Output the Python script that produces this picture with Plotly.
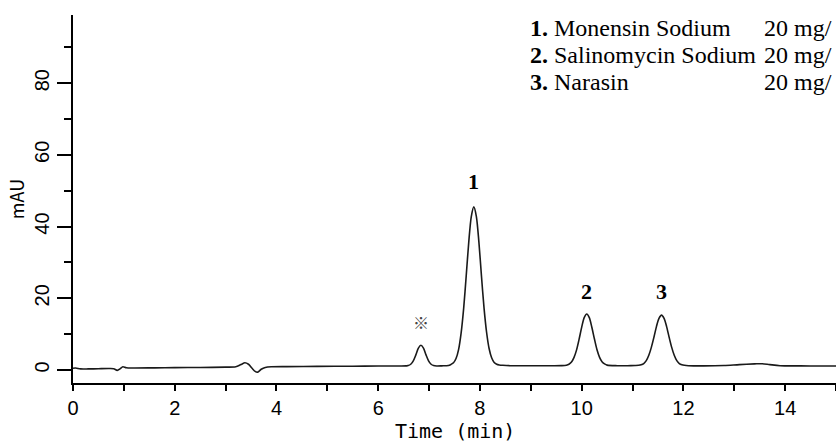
import plotly.graph_objects as go

# Chromatogram trace (time in min, absorbance in mAU)
time_min = [
    0.00, 0.05, 0.15, 0.30, 0.50, 0.70, 0.80, 0.87, 0.93, 0.98, 1.05, 1.20, 1.60, 2.00, 2.50, 3.00, 3.20,
    3.30, 3.38, 3.45, 3.52, 3.58, 3.63, 3.70, 3.78, 3.90, 4.20, 4.80, 5.50, 6.00, 6.40, 6.55,
    6.59, 6.64, 6.69, 6.74, 6.79, 6.84, 6.89, 6.94, 6.99, 7.04, 7.09, 7.15, 7.25,
    7.38, 7.43, 7.48, 7.53, 7.58, 7.63, 7.68, 7.73, 7.78, 7.83, 7.88, 7.93, 7.98, 8.03, 8.08, 8.13,
    8.18, 8.23, 8.28, 8.33, 8.38, 8.45, 8.60, 9.00, 9.40, 9.60,
    9.70, 9.75, 9.80, 9.85, 9.90, 9.95, 10.00, 10.05, 10.10, 10.15, 10.20, 10.25, 10.30, 10.35,
    10.40, 10.45, 10.50, 10.70, 10.90, 11.05,
    11.12, 11.17, 11.22, 11.27, 11.32, 11.37, 11.42, 11.47, 11.52, 11.57, 11.62, 11.67, 11.72,
    11.77, 11.82, 11.87, 11.92, 11.97, 12.02, 12.10, 12.40, 12.80, 13.10, 13.40, 13.55, 13.70,
    13.90, 14.30, 14.70, 15.00,
]
absorbance_mau = [
    0.50, 0.55, 0.30, 0.30, 0.35, 0.40, 0.35, -0.10, 0.40, 0.90, 0.60, 0.55, 0.60, 0.65, 0.70, 0.80, 0.90,
    1.50, 2.00, 1.60, 0.50, -0.40, -0.60, 0.20, 0.70, 0.90, 0.95, 1.00, 1.05, 1.10, 1.10, 1.15,
    1.22, 1.60, 2.55, 4.20, 6.10, 6.90, 6.10, 4.20, 2.55, 1.60, 1.22, 1.12, 1.15,
    1.25, 1.55, 2.00, 3.20, 5.70, 10.30, 17.20, 26.20, 35.60, 42.80, 45.50, 42.80, 35.60, 26.20, 17.40, 10.60,
    6.00, 3.40, 2.10, 1.60, 1.40, 1.30, 1.20, 1.20, 1.20, 1.22,
    1.33, 1.60, 2.20, 3.50, 5.60, 8.60, 11.90, 14.60, 15.60, 14.60, 11.90, 8.70, 5.70, 3.60,
    2.30, 1.70, 1.35, 1.20, 1.20, 1.25,
    1.30, 1.45, 1.80, 2.60, 4.10, 6.30, 9.10, 12.10, 14.40, 15.30, 14.40, 12.10, 9.10,
    6.30, 4.10, 2.60, 1.80, 1.45, 1.30, 1.20, 1.15, 1.25, 1.50, 1.70, 1.75, 1.50,
    1.20, 1.15, 1.10, 1.10,
]

# Peak labels
peak_labels = ["※", "1", "2", "3"]
peak_times = [6.84, 7.88, 10.10, 11.57]
peak_label_heights = [13.3, 52.5, 21.8, 21.8]

# Legend table (concentration column is shown cut at the right edge, as in the source)
legend_numbers = ["1.", "2.", "3."]
legend_names = ["Monensin Sodium", "Salinomycin Sodium", "Narasin"]
legend_conc = ["20 mg/", "20 mg/", "20 mg/"]

x_major_ticks = [0, 2, 4, 6, 8, 10, 12, 14]
y_major_ticks = [0, 20, 40, 60, 80]

fig = go.Figure()
fig.add_trace(go.Scatter(
    x=time_min, y=absorbance_mau, mode="lines",
    line=dict(color="#1a1a1a", width=1.6, shape="spline", smoothing=0.8),
    hoverinfo="skip", showlegend=False,
))

tick_font = dict(family="Liberation Sans, Arial, sans-serif", size=20, color="black")
serif = "Liberation Serif, Times New Roman, serif"

for lab, t, h in zip(peak_labels, peak_times, peak_label_heights):
    if lab == "※":
        fnt = dict(family="Noto Sans CJK JP, sans-serif", size=16, color="#444")
        txt = lab
    else:
        fnt = dict(family=serif, size=22, color="black")
        txt = "<b>" + lab + "</b>"
    fig.add_annotation(x=t, y=h, xref="x", yref="y", text=txt, showarrow=False,
                       font=fnt, xanchor="center", yanchor="middle")

row_y = [0.965, 0.891, 0.817]
for num, name, conc, yy in zip(legend_numbers, legend_names, legend_conc, row_y):
    fig.add_annotation(x=0.596, y=yy, xref="paper", yref="paper",
                       text="<b>" + num + "</b> " + name, showarrow=False,
                       xanchor="left", yanchor="middle",
                       font=dict(family=serif, size=24, color="black"))
    fig.add_annotation(x=0.903, y=yy, xref="paper", yref="paper",
                       text=conc, showarrow=False, xanchor="left", yanchor="middle",
                       font=dict(family=serif, size=24, color="black"))

# x-axis title placed just under the tick labels
fig.add_annotation(x=0.5, y=-0.1304, xref="paper", yref="paper", text="Time (min)",
                   showarrow=False, xanchor="center", yanchor="middle",
                   font=dict(family="DejaVu Sans Mono, monospace", size=20, color="black"))

fig.update_layout(
    width=836, height=442,
    margin=dict(l=73, r=0, t=15, b=59),
    paper_bgcolor="white", plot_bgcolor="white",
    xaxis=dict(
        range=[0, 15], tickvals=x_major_ticks, ticks="outside", ticklen=6, tickwidth=1.5,
        tickcolor="black", showline=True, linecolor="black", linewidth=1.5,
        showgrid=False, zeroline=False, tickfont=tick_font,
        minor=dict(dtick=1, ticks="outside", ticklen=6, tickwidth=1.5, tickcolor="black", showgrid=False),
    ),
    yaxis=dict(
        range=[-3.63, 99], tickvals=y_major_ticks, ticks="outside", ticklen=14, tickwidth=1.5,
        tickcolor="black", showline=True, linecolor="black", linewidth=1.5,
        showgrid=False, zeroline=False, tickfont=tick_font, tickangle=-90,
        minor=dict(dtick=10, tick0=0, ticks="outside", ticklen=7, tickwidth=1.5, tickcolor="black", showgrid=False),
        title=dict(text="mAU", standoff=2,
                   font=dict(family="Noto Sans CJK JP, sans-serif", size=18, color="black")),
    ),
)

fig.write_html("out.html")
